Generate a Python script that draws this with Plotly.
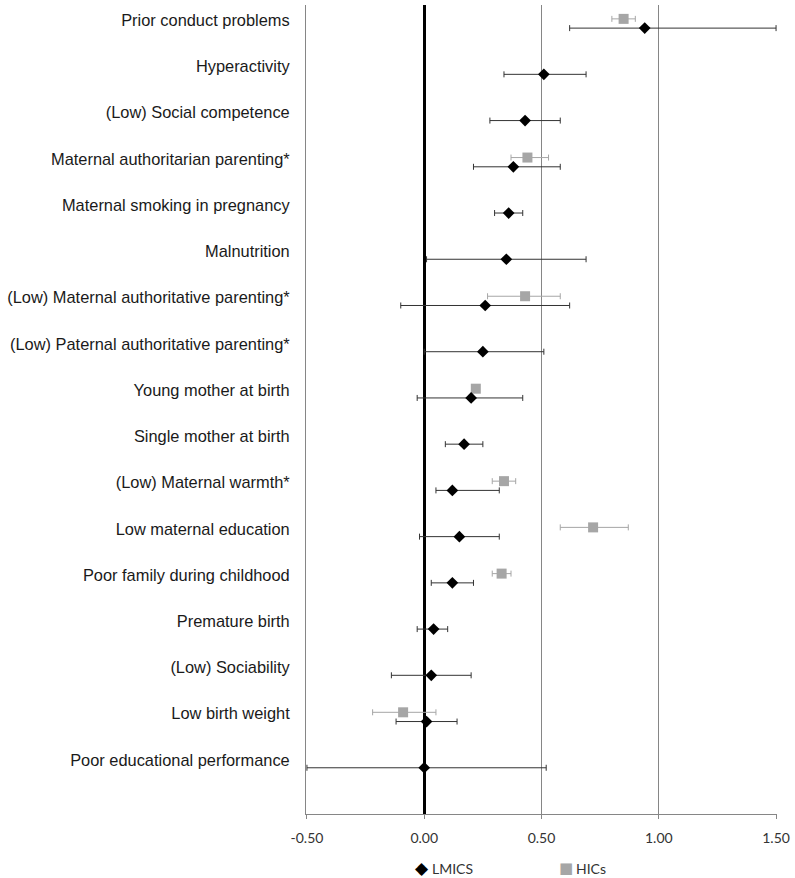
import plotly.graph_objects as go

# Risk factors, top to bottom
factors = [
    "Prior conduct problems",
    "Hyperactivity",
    "(Low) Social competence",
    "Maternal authoritarian parenting*",
    "Maternal smoking in pregnancy",
    "Malnutrition",
    "(Low) Maternal authoritative parenting*",
    "(Low) Paternal authoritative parenting*",
    "Young mother at birth",
    "Single mother at birth",
    "(Low) Maternal warmth*",
    "Low maternal education",
    "Poor family during childhood",
    "Premature birth",
    "(Low) Sociability",
    "Low birth weight",
    "Poor educational performance",
]

# Low- and middle-income countries: estimate and confidence interval
lmic_est = [0.94, 0.51, 0.43, 0.38, 0.36, 0.35, 0.26, 0.25, 0.20, 0.17, 0.12, 0.15, 0.12, 0.04, 0.03, 0.01, 0.00]
lmic_lo = [0.62, 0.34, 0.28, 0.21, 0.30, 0.01, -0.10, 0.00, -0.03, 0.09, 0.05, -0.02, 0.03, -0.03, -0.14, -0.12, -0.50]
lmic_hi = [1.50, 0.69, 0.58, 0.58, 0.42, 0.69, 0.62, 0.51, 0.42, 0.25, 0.32, 0.32, 0.21, 0.10, 0.20, 0.14, 0.52]

# High-income countries (only where available)
hic_est = [0.85, None, None, 0.44, None, None, 0.43, None, 0.22, None, 0.34, 0.72, 0.33, None, None, -0.09, None]
hic_lo = [0.80, None, None, 0.37, None, None, 0.27, None, 0.21, None, 0.29, 0.58, 0.29, None, None, -0.22, None]
hic_hi = [0.90, None, None, 0.53, None, None, 0.58, None, 0.23, None, 0.39, 0.87, 0.37, None, None, 0.05, None]

x_ticks = [-0.5, 0.0, 0.5, 1.0, 1.5]

LMIC_COLOR = "black"
HIC_COLOR = "#A6A6A6"
GRID_COLOR = "#868686"

n = len(factors)
row_pos = [n - i for i in range(n)]          # 17 ... 1
hic_shift = 0.2                                # HIC marks sit just above the LMIC row
label_shift = 0.17

hic_rows = [(p + hic_shift, e, lo, hi) for p, e, lo, hi in zip(row_pos, hic_est, hic_lo, hic_hi) if e is not None]

fig = go.Figure()

fig.add_trace(go.Scatter(
    x=[r[1] for r in hic_rows],
    y=[r[0] for r in hic_rows],
    mode="markers",
    name="HICs",
    showlegend=False,
    marker=dict(symbol="square", size=10, color=HIC_COLOR),
    error_x=dict(
        type="data", symmetric=False,
        array=[r[3] - r[1] for r in hic_rows],
        arrayminus=[r[1] - r[2] for r in hic_rows],
        color=HIC_COLOR, thickness=1, width=3,
    ),
))

fig.add_trace(go.Scatter(
    x=lmic_est,
    y=row_pos,
    mode="markers",
    name="LMICS",
    showlegend=False,
    marker=dict(symbol="diamond", size=9, color=LMIC_COLOR),
    error_x=dict(
        type="data", symmetric=False,
        array=[h - e for h, e in zip(lmic_hi, lmic_est)],
        arrayminus=[e - l for e, l in zip(lmic_est, lmic_lo)],
        color="#333333", thickness=1, width=3,
    ),
))

# Key below the axis: symbol + series name
legend_y = -0.067
legend_items = [
    ("◆", LMIC_COLOR, "LMICS", 0.247, 17),
    ("■", HIC_COLOR, "HICs", 0.551, 15),
]
for glyph, color, label, xpos, gsize in legend_items:
    fig.add_annotation(
        xref="paper", yref="paper", x=xpos, y=legend_y,
        text=glyph, showarrow=False, xanchor="center", yanchor="middle",
        font=dict(family="DejaVu Sans", size=gsize, color=color),
    )
    fig.add_annotation(
        xref="paper", yref="paper", x=xpos, y=legend_y,
        text=label, showarrow=False, xanchor="left", yanchor="middle",
        xshift=8, font=dict(family="Lato", size=14, color="#333333"),
    )

fig.update_layout(
    width=795, height=878,
    margin=dict(l=306, r=15, t=5, b=64),
    paper_bgcolor="white",
    plot_bgcolor="white",
    showlegend=False,
    xaxis=dict(
        range=[-0.504, 1.504],
        tickvals=x_ticks,
        ticktext=[f"{v:.2f}" for v in x_ticks],
        tickfont=dict(family="Lato", size=14, color="#333333"),
        showgrid=True, gridcolor=GRID_COLOR, gridwidth=1,
        zeroline=True, zerolinecolor="black", zerolinewidth=3,
        showline=True, linecolor=GRID_COLOR, linewidth=1,
        ticks="outside", ticklen=4, tickcolor=GRID_COLOR,
        ticklabelstandoff=7,
        fixedrange=True,
    ),
    yaxis=dict(
        range=[0, n + 0.5],
        tickvals=[p + label_shift for p in row_pos],
        ticktext=factors,
        tickfont=dict(family="Liberation Sans", size=16.4, color="#1a1a1a"),
        ticks="", showgrid=False, zeroline=False,
        showline=True, linecolor=GRID_COLOR, linewidth=1,
        ticklabelstandoff=12,
        fixedrange=True,
    ),
)

fig.write_html("out.html")
